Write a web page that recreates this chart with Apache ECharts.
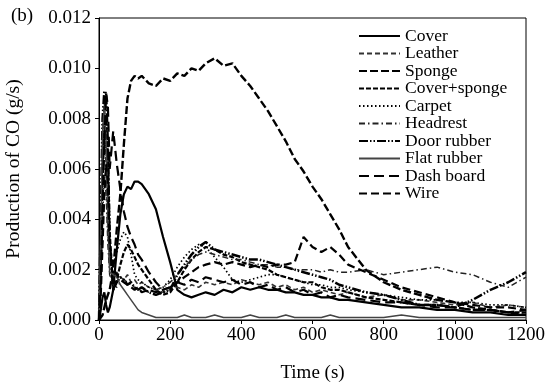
<!DOCTYPE html>
<html>
<head>
<meta charset="utf-8">
<script src="https://cdn.jsdelivr.net/npm/echarts@6/dist/echarts.min.js"></script>
<style>
  html, body { margin: 0; padding: 0; background: #fff; }
  #chart { width: 553px; height: 384px; }
</style>
</head>
<body>
<div id="chart"></div>
<script>
// Sampling times (s), shared by every material
const timeS = [0,5,10,15,20,25,30,40,50,60, 70,80,90,100,110,120,140,160,180,200,
  220,240,260,280,300,325,350,375,400,425, 450,475,500,525,550,575,600,625,650,675,
  700,750,800,850,900,950,1000,1050,1100,1150, 1200];

// CO production rate (g/s) per material
const cover = [0,0.0004,0.0009,0.0011,0.0006,0.0003,0.0005,0.0012,0.0028,0.0042,
  0.0050,0.0053,0.0052,0.0055,0.0055,0.0054,0.0050,0.0044,0.0033,0.0023,
  0.0012,0.0010,0.0009,0.0010,0.0011,0.0010,0.0012,0.0011,0.0013,0.0012,
  0.0013,0.0012,0.0012,0.0011,0.0011,0.0010,0.0010,0.0009,0.0009,0.0008,
  0.0008,0.0007,0.0006,0.0005,0.0005,0.0004,0.0004,0.0003,0.0003,0.0002,
  0.0002];
const leather = [0,0.0030,0.0072,0.0088,0.0060,0.0035,0.0022,0.0018,0.0019,0.0017,
  0.0016,0.0018,0.0015,0.0016,0.0014,0.0015,0.0013,0.0012,0.0011,0.0012,
  0.0013,0.0012,0.0014,0.0013,0.0015,0.0014,0.0015,0.0014,0.0016,0.0015,
  0.0014,0.0015,0.0013,0.0014,0.0012,0.0013,0.0011,0.0012,0.0011,0.0010,
  0.0011,0.0009,0.0010,0.0008,0.0008,0.0007,0.0006,0.0007,0.0005,0.0006,
  0.0005];
const sponge = [0,0,0.0002,0.0005,0.0008,0.0010,0.0012,0.0020,0.0036,0.0050,
  0.0070,0.0088,0.0095,0.0097,0.0096,0.0097,0.0094,0.0093,0.0096,0.0095,
  0.0098,0.0097,0.0100,0.0099,0.0102,0.0104,0.0101,0.0102,0.0097,0.0093,
  0.0088,0.0083,0.0077,0.0071,0.0064,0.0059,0.0053,0.0048,0.0042,0.0036,
  0.0029,0.0020,0.0015,0.0012,0.0010,0.0008,0.0007,0.0005,0.0004,0.0003,
  0.0002];
const coverSponge = [0,0.0020,0.0055,0.0075,0.0080,0.0065,0.0035,0.0012,0.0016,0.0022,
  0.0027,0.0030,0.0028,0.0025,0.0022,0.0020,0.0016,0.0012,0.0010,0.0011,
  0.0015,0.0020,0.0024,0.0027,0.0029,0.0028,0.0026,0.0025,0.0023,0.0022,
  0.0021,0.0020,0.0018,0.0017,0.0016,0.0015,0.0015,0.0013,0.0012,0.0012,
  0.0011,0.0009,0.0008,0.0007,0.0006,0.0006,0.0005,0.0004,0.0004,0.0003,
  0.0003];
const carpet = [0,0.0025,0.0060,0.0075,0.0068,0.0045,0.0025,0.0022,0.0027,0.0032,
  0.0035,0.0033,0.0026,0.0018,0.0016,0.0015,0.0013,0.0012,0.0013,0.0016,
  0.0021,0.0025,0.0028,0.0030,0.0029,0.0025,0.0021,0.0016,0.0015,0.0016,
  0.0017,0.0018,0.0018,0.0017,0.0016,0.0015,0.0014,0.0014,0.0013,0.0013,
  0.0012,0.0011,0.0010,0.0009,0.0008,0.0008,0.0007,0.0007,0.0006,0.0006,
  0.0005];
const headrest = [0,0.0018,0.0040,0.0058,0.0050,0.0030,0.0018,0.0014,0.0013,0.0015,
  0.0016,0.0015,0.0014,0.0013,0.0012,0.0013,0.0011,0.0012,0.0013,0.0015,
  0.0018,0.0021,0.0024,0.0026,0.0027,0.0026,0.0025,0.0024,0.0024,0.0023,
  0.0022,0.0022,0.0021,0.0021,0.0020,0.0020,0.0020,0.0019,0.0020,0.0019,
  0.0019,0.0020,0.0018,0.0019,0.0020,0.0021,0.0019,0.0018,0.0015,0.0013,
  0.0017];
const doorRubber = [0,0.0040,0.0080,0.0091,0.0090,0.0070,0.0030,0.0012,0.0015,0.0017,
  0.0016,0.0014,0.0015,0.0013,0.0012,0.0013,0.0011,0.0010,0.0011,0.0012,
  0.0018,0.0022,0.0026,0.0029,0.0031,0.0028,0.0027,0.0026,0.0025,0.0024,
  0.0024,0.0023,0.0022,0.0021,0.0020,0.0019,0.0018,0.0017,0.0016,0.0014,
  0.0013,0.0011,0.0010,0.0008,0.0006,0.0006,0.0005,0.0008,0.0012,0.0015,
  0.0019];
const flatRubber = [0,0.0035,0.0075,0.0085,0.0070,0.0040,0.0019,0.0018,0.0017,0.0014,
  0.0012,0.0010,0.0008,0.0006,0.0004,0.0003,0.0002,0.0001,0.0001,0.0001,
  0.0001,0.0002,0.0001,0.0001,0.0001,0.0002,0.0001,0.0001,0.0001,0.0002,
  0.0001,0.0001,0.0001,0.0002,0.0001,0.0001,0.0001,0.0001,0.0002,0.0001,
  0.0001,0.0001,0.0001,0.0002,0.0001,0.0001,0.0001,0.0001,0.0001,0.0001,
  0.0001];
const dashBoard = [0,0.0015,0.0045,0.0070,0.0090,0.0085,0.0060,0.0075,0.0062,0.0052,
  0.0043,0.0037,0.0033,0.0030,0.0026,0.0024,0.0019,0.0015,0.0012,0.0013,
  0.0015,0.0014,0.0016,0.0015,0.0017,0.0016,0.0015,0.0016,0.0014,0.0015,
  0.0013,0.0014,0.0012,0.0013,0.0011,0.0012,0.0010,0.0011,0.0009,0.0010,
  0.0009,0.0008,0.0007,0.0007,0.0006,0.0005,0.0005,0.0004,0.0004,0.0003,
  0.0004];
const wire = [0,0.0010,0.0030,0.0050,0.0062,0.0055,0.0030,0.0020,0.0018,0.0016,
  0.0015,0.0014,0.0013,0.0012,0.0013,0.0011,0.0012,0.0011,0.0012,0.0013,
  0.0015,0.0017,0.0019,0.0021,0.0022,0.0023,0.0022,0.0023,0.0022,0.0021,
  0.0022,0.0021,0.0022,0.0022,0.0023,0.0033,0.0029,0.0027,0.0029,0.0026,
  0.0022,0.0019,0.0016,0.0013,0.0011,0.0009,0.0007,0.0006,0.0005,0.0005,
  0.0004];

const materialNames = ['Cover','Leather','Sponge','Cover+sponge','Carpet',
  'Headrest','Door rubber','Flat rubber','Dash board','Wire'];
const materialValues = [cover, leather, sponge, coverSponge, carpet,
  headrest, doorRubber, flatRubber, dashBoard, wire];

// Line style per material: [dash pattern, width, colour]
const lineLooks = [
  ['solid', 2.2, '#000'],
  [[5, 3], 1.6, '#333'],
  [[8, 3], 2.4, '#000'],
  [[5, 2], 2.2, '#000'],
  [[1.5, 2.5], 1.7, '#000'],
  [[6, 3, 1.5, 3], 1.5, '#222'],
  [[9, 2, 1.5, 2, 1.5, 2], 2.5, '#000'],
  ['solid', 1.5, '#444'],
  [[10, 5], 2.2, '#000'],
  [[8, 4], 2.2, '#000']
];

const serif = '"Liberation Serif", "DejaVu Serif", serif';

const series = materialNames.map((name, i) => ({
  name: name,
  type: 'line',
  symbol: 'none',
  showSymbol: false,
  smooth: false,
  data: timeS.map((t, k) => [t, materialValues[i][k]]),
  lineStyle: { type: lineLooks[i][0], width: lineLooks[i][1], color: lineLooks[i][2] },
  itemStyle: { color: lineLooks[i][2] }
}));

const chart = echarts.init(document.getElementById('chart'), null, { renderer: 'canvas' });
chart.setOption({
  animation: false,
  backgroundColor: '#fff',
  grid: { left: 99, right: 27, top: 18, bottom: 64, show: true, borderColor: '#000', borderWidth: 1,
    containLabel: false, outerBoundsMode: 'none' },
  xAxis: {
    type: 'value', min: 0, max: 1200, interval: 200,
    name: 'Time (s)', nameLocation: 'middle', nameGap: 44,
    nameTextStyle: { fontFamily: serif, fontSize: 19, color: '#000' },
    axisLine: { show: true, lineStyle: { color: '#000', width: 1 } },
    axisTick: { show: true, inside: false, length: 4, lineStyle: { color: '#000' } },
    axisLabel: { fontFamily: serif, fontSize: 19, color: '#000', margin: 6,
      formatter: v => String(v) },
    splitLine: { show: false }
  },
  yAxis: {
    type: 'value', min: 0, max: 0.012, interval: 0.002,
    name: 'Production of CO (g/s)', nameLocation: 'middle', nameGap: 75, nameRotate: 90,
    nameTextStyle: { fontFamily: serif, fontSize: 19.5, color: '#000' },
    axisLine: { show: true, lineStyle: { color: '#000', width: 1 } },
    axisTick: { show: true, inside: false, length: 4, lineStyle: { color: '#000' } },
    axisLabel: { fontFamily: serif, fontSize: 19, color: '#000', margin: 8,
      formatter: v => v.toFixed(3) },
    splitLine: { show: false }
  },
  legend: {
    orient: 'vertical', left: 353, top: 22,
    itemWidth: 41, itemHeight: 10, itemGap: -0.5,
    itemStyle: { opacity: 0 },
    textStyle: { fontFamily: serif, fontSize: 17.5, lineHeight: 16, color: '#000' },
    data: materialNames
  },
  graphic: [{
    type: 'text', left: 11, top: 7,
    style: { text: '(b)', font: '19px ' + serif, fill: '#000' }
  }],
  series: series
});
</script>
</body>
</html>
